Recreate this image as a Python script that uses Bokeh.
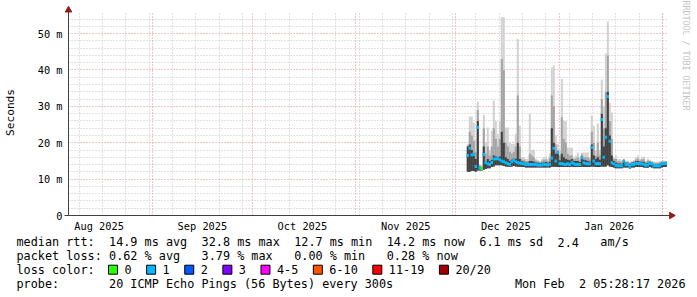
import numpy as np
from bokeh.plotting import figure
from bokeh.layouts import column
from bokeh.models import (Range1d, FixedTicker, Grid, Title, ColumnDataSource, Plot)
from bokeh.embed import file_html
from bokeh.resources import INLINE
from bokeh.core.properties import value

MONO = "DejaVu Sans Mono"

# ---------------- data ----------------
# time axis: days since 2025-08-01 00:00
t_first = 125.6     # first consolidated sample (~2025-12-04)
t_step = 0.6        # consolidation step in days
t_view = [5.84, 185.8]   # graph time window (180 days ending 2026-02-02)

median = [16.5, 18.5, 16.7, 16.7, 13.5, 24.2, 13.0, 12.9, 16.8, 14.6,
          14.2, 14.0, 14.6, 15.5, 15.6, 15.6, 15.3, 15.0, 14.8, 14.5,
          14.2, 14.0, 14.8, 15.2, 14.8, 14.5, 14.4, 14.3, 14.2, 14.0,
          14.0, 14.0, 14.0, 14.0, 14.0, 13.9, 13.9, 13.9, 14.0, 14.0,
          13.9, 14.1, 15.8, 18.5, 15.0, 17.3, 14.3, 14.2, 14.1, 14.0,
          14.2, 14.0, 14.6, 14.2, 14.0, 14.0, 14.0, 15.9, 14.5, 14.3,
          14.2, 14.2, 18.7, 15.0, 14.2, 14.3, 14.2, 26.4, 16.0, 21.5,
          32.7, 20.4, 14.5, 14.2, 13.8, 13.7, 13.7, 13.7, 14.9, 14.0,
          14.0, 13.5, 14.0, 14.1, 14.3, 14.3, 14.2, 14.2, 14.1, 13.8,
          13.9, 14.3, 14.2, 13.7, 13.7, 13.7, 13.7, 14.2, 14.3, 14.3]

ping_min = [12.0, 12.0, 12.2, 12.2, 12.0, 12.4, 12.4, 12.4, 12.6, 12.8,
            13.0, 13.0, 13.3, 13.5, 13.8, 13.8, 13.8, 13.8, 13.6, 13.5,
            13.4, 13.3, 13.5, 13.6, 13.5, 13.4, 13.4, 13.3, 13.3, 13.2,
            13.2, 13.2, 13.2, 13.2, 13.2, 13.2, 13.2, 13.2, 13.2, 13.2,
            13.2, 13.2, 13.4, 13.4, 13.3, 13.3, 13.3, 13.3, 13.3, 13.3,
            13.3, 13.3, 13.4, 13.3, 13.3, 13.3, 13.3, 13.4, 13.3, 13.3,
            13.3, 13.3, 13.5, 13.4, 13.3, 13.3, 13.3, 13.5, 13.4, 13.5,
            13.8, 13.5, 13.3, 13.2, 13.0, 13.0, 13.0, 13.0, 13.2, 13.2,
            13.2, 12.9, 13.2, 13.2, 13.3, 13.3, 13.3, 13.3, 13.2, 13.1,
            13.1, 13.3, 13.2, 13.0, 13.0, 13.0, 13.0, 13.2, 13.3, 13.3]

ping_p75 = [19.0, 19.5, 18.0, 17.0, 15.5, 26.0, 13.4, 13.3, 19.0, 15.0,
            15.5, 15.0, 15.3, 16.5, 16.2, 16.0, 16.2, 23.0, 20.0, 16.0,
            15.5, 15.0, 15.3, 15.6, 15.6, 20.0, 15.5, 14.9, 14.8, 14.5,
            14.5, 15.0, 15.0, 14.8, 14.6, 14.5, 14.4, 14.5, 14.6, 14.7,
            14.5, 14.8, 24.0, 20.0, 17.0, 17.5, 15.2, 17.0, 16.0, 15.5,
            15.3, 15.2, 15.5, 15.0, 15.0, 15.0, 14.7, 16.2, 15.3, 15.2,
            15.0, 14.8, 19.5, 16.5, 15.5, 16.0, 15.3, 28.0, 19.0, 24.0,
            34.0, 22.0, 16.5, 15.0, 14.6, 14.3, 14.3, 14.2, 15.2, 14.5,
            14.5, 14.0, 14.5, 14.6, 14.9, 15.0, 14.8, 14.8, 14.8, 14.3,
            14.5, 14.8, 14.6, 14.1, 14.1, 14.1, 14.2, 14.6, 14.7, 14.7]

ping_p90 = [19.2, 23.0, 22.0, 20.5, 17.5, 29.0, 13.7, 13.5, 24.0, 17.0,
            19.0, 16.5, 19.0, 24.0, 21.0, 19.0, 21.0, 43.0, 40.0, 20.0,
            19.0, 17.5, 17.0, 17.5, 19.0, 33.0, 19.0, 15.4, 15.3, 15.0,
            15.0, 17.0, 16.5, 16.0, 15.1, 14.9, 14.7, 15.0, 15.3, 15.4,
            15.0, 15.8, 33.0, 30.0, 19.5, 18.0, 16.5, 27.0, 21.0, 20.0,
            17.0, 16.5, 16.5, 15.5, 15.6, 16.0, 15.2, 16.8, 16.0, 16.0,
            16.0, 15.4, 23.0, 20.0, 16.5, 20.0, 16.5, 32.0, 24.0, 34.0,
            44.0, 26.0, 21.0, 15.5, 15.5, 14.9, 14.9, 14.7, 15.4, 14.8,
            14.8, 14.4, 14.8, 14.9, 15.4, 15.7, 15.1, 15.4, 15.5, 14.7,
            15.1, 15.0, 14.8, 14.5, 14.5, 14.5, 14.6, 14.8, 14.9, 14.9]

ping_max = [19.5, 27.2, 27.2, 25.5, 21.0, 31.3, 14.0, 13.8, 27.7, 20.0,
            24.2, 18.0, 23.3, 31.6, 26.0, 22.5, 26.0, 54.5, 54.5, 24.2,
            24.2, 20.0, 19.7, 19.7, 22.5, 48.6, 24.7, 16.0, 16.0, 15.5,
            15.5, 28.0, 18.1, 18.1, 15.6, 15.3, 15.0, 15.5, 16.0, 16.2,
            15.5, 17.0, 40.7, 41.2, 22.0, 19.7, 18.0, 37.6, 26.0, 26.0,
            18.7, 18.7, 18.7, 16.0, 16.5, 17.3, 15.8, 17.3, 17.3, 17.3,
            17.3, 16.0, 27.5, 24.7, 18.0, 25.3, 18.0, 37.4, 30.0, 44.5,
            53.3, 31.0, 28.3, 16.0, 16.5, 15.5, 15.5, 15.2, 15.6, 15.0,
            15.0, 14.8, 15.0, 15.2, 16.0, 16.5, 15.5, 16.0, 16.2, 15.0,
            15.7, 15.3, 15.0, 14.8, 14.8, 14.8, 14.9, 15.0, 15.0, 15.0]

loss_count = [1, 1, 1, 1, 1, 1, 1, 0, 1, 1,
              1, 1, 1, 1, 1, 1, 1, 1, 1, 1,
              1, 1, 1, 1, 1, 1, 1, 1, 1, 1,
              1, 1, 1, 1, 1, 1, 1, 1, 1, 1,
              1, 1, 1, 1, 1, 1, 1, 1, 1, 1,
              1, 1, 1, 1, 1, 1, 1, 1, 1, 1,
              1, 1, 1, 1, 1, 1, 1, 1, 1, 1,
              1, 1, 1, 1, 1, 1, 1, 1, 1, 1,
              1, 1, 1, 1, 1, 1, 1, 1, 1, 1,
              1, 1, 1, 1, 1, 1, 1, 1, 1, 1]

loss_bins = ["0", "1", "2", "3", "4-5", "6-10", "11-19", "20/20"]
loss_bin_max = [0, 1, 2, 3, 5, 10, 19, 20]
loss_colors = ["#26ff00", "#00b8ff", "#0059ff", "#7e00ff",
               "#ff00ff", "#ff5500", "#ff0000", "#a10000"]

month_starts = [31, 61, 92, 122, 153, 184]          # Sep 1 ... Feb 1
week_starts = [9, 16, 23, 30, 37, 44, 51, 58, 65, 72, 79, 86, 93, 100, 107,
               114, 121, 128, 135, 142, 149, 156, 163, 170, 177, 184]  # Sundays
month_label_pos = [15, 46, 76, 107, 137, 168]
month_labels = ["Aug 2025", "Sep 2025", "Oct 2025", "Nov 2025", "Dec 2025", "Jan 2026"]
y_major = [0, 10, 20, 30, 40, 50]
y_labels = ["0", "10 m", "20 m", "30 m", "40 m", "50 m"]
y_minor = [2, 4, 6, 8, 12, 14, 16, 18, 22, 24, 26, 28, 32, 34, 36, 38,
           42, 44, 46, 48, 52, 54]
y_top = 55.8

rtt_stats = ["14.9 ms avg", "32.8 ms max", "12.7 ms min", "14.2 ms now", "6.1 ms sd"]
am_s = ["2.4", "am/s"]
loss_stats = ["0.62 % avg", "3.79 % max", "0.00 % min", "0.28 % now"]
probe_text = "20 ICMP Echo Pings (56 Bytes) every 300s"
stamp_parts = ["Mon Feb", "2 05:28:17 2026"]

# ---------------- geometry ----------------
GX0, GX1, GY0, GY1 = 67, 668, 215, 12          # pixel box of the graph window
PPD = (GX1 - GX0) / (t_view[1] - t_view[0])    # px per day
PPM = (GY0 - GY1) / y_top                       # px per ms
FL, FR, FT, FB = 62, 676, 5, 219                # plot frame (slightly larger)
H_MAIN = 236


def xd(px):
    return t_view[0] + (px - GX0) / PPD


def yd(py):
    return (GY0 - py) / PPM


def loss_color(n):
    for mx, c in zip(loss_bin_max, loss_colors):
        if n <= mx:
            return c
    return loss_colors[-1]


t = t_first + t_step * np.arange(len(median))
src = ColumnDataSource(dict(t=t, lo=ping_min, p75=ping_p75, p90=ping_p90,
                            mx=ping_max, med=median,
                            col=[loss_color(n) for n in loss_count]))

p = figure(width=697, height=H_MAIN,
           x_range=Range1d(xd(FL), xd(FR)), y_range=Range1d(yd(FB), yd(FT)),
           output_backend="svg", toolbar_location=None,
           min_border_left=FL, min_border_right=697 - FR,
           min_border_top=FT, min_border_bottom=H_MAIN - FB)
p.outline_line_color = None
p.background_fill_color = "white"
p.border_fill_color = "white"
p.xgrid.grid_line_color = None
p.ygrid.grid_line_color = None

GREY = "#c4c4c4"
RED = "#e58c8c"
has_cross = "cross_bounds" in Grid.properties()
for dim, ticks, colr in [(0, week_starts, GREY), (1, y_minor, GREY),
                         (0, month_starts, RED), (1, y_major[1:], RED)]:
    g = Grid(dimension=dim, ticker=FixedTicker(ticks=ticks),
             grid_line_color=colr, grid_line_dash="1 2", grid_line_width=1)
    if has_cross:
        g.cross_bounds = (0, yd(GY1)) if dim == 0 else (t_view[0], t_view[1])
    p.add_layout(g)

W = t_step * 1.02
p.vbar(x="t", width=W, bottom="lo", top="mx", source=src, fill_color="#d2d2d2", line_color=None)
p.vbar(x="t", width=W, bottom="lo", top="p90", source=src, fill_color="#a4a4a4", line_color=None)
p.vbar(x="t", width=W, bottom="lo", top="p75", source=src, fill_color="#404040", line_color=None)
p.rect(x="t", y="med", width=t_step * 1.25, height=3, height_units="screen", source=src,
       fill_color="col", line_color=None)

# axis lines + arrow heads (rrdtool style)
AX = "#404040"
DRED = "#8e1b1b"
p.segment(x0=[xd(63), t_view[0]], y0=[0, 0], x1=[xd(669), t_view[0]], y1=[0, yd(10)],
          line_color=AX, line_width=1)
p.scatter(x=[t_view[0]], y=[yd(9.6)], marker="triangle", size=6.5,
          fill_color=DRED, line_color=DRED)
p.scatter(x=[xd(671)], y=[0], marker="triangle", angle=-np.pi / 2, size=6.5,
          fill_color=DRED, line_color=DRED)

xa = p.xaxis[0]
xa.ticker = FixedTicker(ticks=month_label_pos)
xa.major_label_overrides = {k: v for k, v in zip(month_label_pos, month_labels)}
xa.major_tick_out = 0
xa.major_tick_in = 0
xa.minor_tick_out = 0
xa.minor_tick_in = 0
xa.axis_line_color = None
xa.major_label_text_font = MONO
xa.major_label_text_font_size = "10.3px"
xa.major_label_text_color = "#000000"
xa.major_label_standoff = 0

ya = p.yaxis[0]
ya.ticker = FixedTicker(ticks=y_major)
ya.major_label_overrides = {k: v for k, v in zip(y_major, y_labels)}
ya.major_tick_out = 0
ya.major_tick_in = 0
ya.minor_tick_out = 0
ya.minor_tick_in = 0
ya.axis_line_color = None
ya.major_label_text_font = MONO
ya.major_label_text_font_size = "10.3px"
ya.major_label_text_color = "#000000"
ya.major_label_standoff = 1
ya.axis_label = "Seconds"
ya.axis_label_text_font = MONO
ya.axis_label_text_font_style = "normal"
ya.axis_label_text_font_size = "11.2px"
ya.axis_label_text_color = "#000000"
ya.axis_label_standoff = 18

wm = Title(text="RRDTOOL / TOBI OETIKER", align="left", offset=-5, standoff=8,
           text_font=MONO, text_font_size="8.3px", text_font_style="normal",
           text_color="#c4c4c4")
p.add_layout(wm, "right")

# ---------------- legend area ----------------
H_LEG = 297 - H_MAIN
q = figure(width=697, height=H_LEG, x_range=Range1d(0, 697), y_range=Range1d(297, H_MAIN),
           output_backend="svg", toolbar_location=None, min_border=0,
           x_axis_type=None, y_axis_type=None)
q.outline_line_color = None
q.background_fill_color = "white"
q.border_fill_color = "white"
if "frame_align" in Plot.properties():
    p.frame_align = False
    q.frame_align = False

CW = 7.12
LX = 16
rows = [241.5, 255.3, 269.2, 283.0]

segs = [("median rtt:", 0, 0)]
segs += [(s, 13 + 13 * i, 0) for i, s in enumerate(rtt_stats)]
segs += [(am_s[0], 76, 0), (am_s[1], 82, 0)]
segs += [("packet loss:", 0, 1)]
segs += [(s, 13 + 13 * i, 1) for i, s in enumerate(loss_stats)]
segs += [("loss color:", 0, 2)]
segs += [("probe:", 0, 3), (probe_text, 13, 3), (stamp_parts[0], 70, 3), (stamp_parts[1], 79, 3)]

tx = [LX + c * CW for _, c, _ in segs]
ty = [rows[r] for _, _, r in segs]
tt = [s for s, _, _ in segs]

box_x, lab_x = [], []
bx = 108.0
for lab in loss_bins:
    box_x.append(bx)
    lab_x.append(bx + 16)
    bx = bx + 16 + len(lab) * CW + 15
tx += lab_x
ty += [rows[2]] * len(loss_bins)
tt += loss_bins

q.text(x=tx, y=ty, text=tt, text_font=value(MONO), text_font_size=value("11.8px"),
       text_baseline="middle", text_align="left", text_color="#000000")
q.rect(x=[b + 4.5 for b in box_x], y=[rows[2]] * len(box_x), width=9, height=9,
       fill_color=loss_colors, line_color="#000000", line_width=1)

layout = column(p, q, spacing=0)
open("out.html", "w").write(file_html(layout, INLINE))
